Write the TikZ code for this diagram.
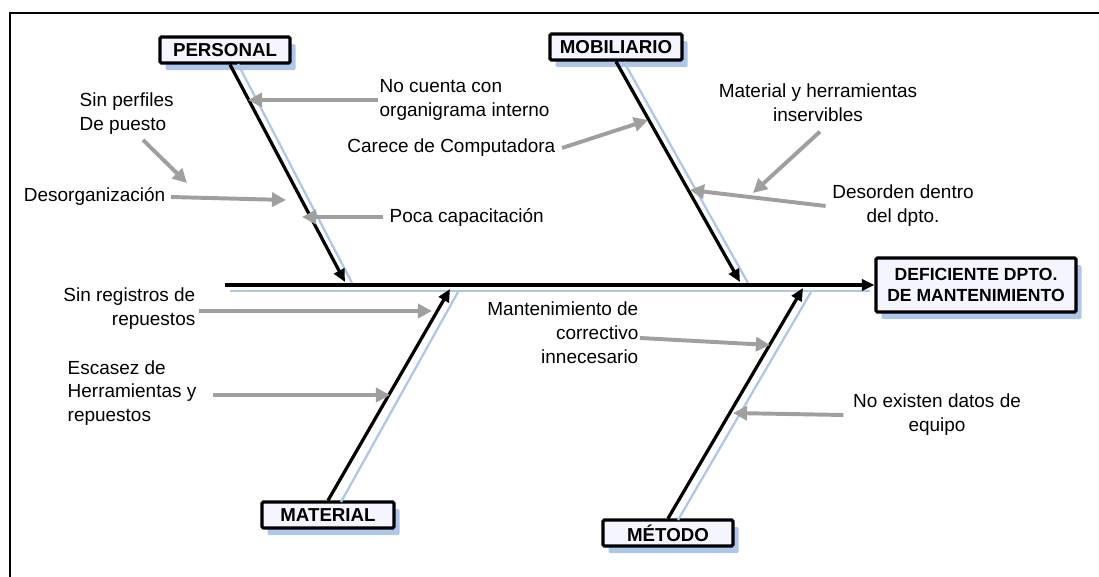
\documentclass[tikz,border=0pt]{standalone}
\usepackage{fontspec}
\setmainfont{Liberation Sans}
\usetikzlibrary{arrows.meta, shadows, positioning}
\definecolor{azulsombra}{RGB}{175,198,235}

\begin{document}
\begin{tikzpicture}[x=0.025cm, y=-0.025cm,
    causa/.style={draw, line width=2.2pt, rounded corners=1pt, fill=blue!4,
        font=\fontsize{13.3}{15}\selectfont\bfseries, inner sep=0pt,
        drop shadow={shadow xshift=4pt, shadow yshift=-5pt, fill=azulsombra, opacity=1}},
    efecto/.style={causa, align=center, font=\fontsize{12.5}{15}\selectfont\bfseries},
    hueso/.style={line width=2.3pt, -{Triangle[length=9pt, width=8pt]}},
    sombra/.style={line width=1.6pt, azulsombra},
    flecha/.style={line width=2.8pt, gray!75, -{Triangle[length=10pt, width=10pt]}},
    txt/.style={font=\fontsize{13.5}{17}\selectfont, inner sep=1pt}]
  \useasboundingbox (0,0) rectangle (1099,577);
  % marco
  \draw[line width=1.5pt] (10,577) -- (10,13) -- (1099,13);

  % cajas
  \node[causa, minimum width=3.25cm, minimum height=0.65cm] (personal) at (225,50) {PERSONAL};
  \node[causa, minimum width=3.3cm, minimum height=0.65cm] (mobiliario) at (616,47) {MOBILIARIO};
  \node[causa, minimum width=3.3cm, minimum height=0.65cm] (material) at (328,515) {MATERIAL};
  \node[causa, minimum width=3.25cm, minimum height=0.65cm] (metodo) at (668,533) {MÉTODO};
  \node[efecto, minimum width=5cm, minimum height=1.35cm] (efecto) at (976,285) {DEFICIENTE DPTO.\\DE MANTENIMIENTO};

  % espina y huesos
  \coordinate (inicio) at (225,285);
  \coordinate (p1) at (345,282);
  \coordinate (m1) at (740,282);
  \coordinate (a1) at (450,289);
  \coordinate (t1) at (803,288);
  \draw[sombra] (230,291) -- (870,291);
  \draw[sombra] (238,64) -- (352,283);
  \draw[sombra] (624,62) -- (748,283);
  \draw[sombra] (341,502) -- (458,292);
  \draw[sombra] (678,520) -- (811,292);
  \draw[hueso] (inicio) -- (efecto.west);
  \draw[hueso] (personal.south) ++(5,0) -- (p1);
  \draw[hueso] (mobiliario.south) -- (m1);
  \draw[hueso] (material.north) -- (a1);
  \draw[hueso] (metodo.north) -- (t1);

  % causas de personal
  \node[txt, anchor=west, align=left] (organig) at (378,100) {No cuenta con\\organigrama interno};
  \node[txt, anchor=west, align=left] (perfiles) at (78,114) {Sin perfiles\\De puesto};
  \node[txt, anchor=east] (desorg) at (167,196) {Desorganización};
  \node[txt, anchor=west] (capacit) at (388,217) {Poca capacitación};
  \coordinate (e1) at (248,100);
  \coordinate (e2) at (187,183);
  \coordinate (e3) at (286,200);
  \coordinate (e4) at (302,217);
  \draw[flecha] (organig.west) -- (e1);
  \draw[flecha] (143,140) -- (e2);
  \draw[flecha] (desorg.east) ++(4,1) -- (e3);
  \draw[flecha] (capacit.west) ++(-5,0) -- (e4);

  % causas de mobiliario
  \node[txt, anchor=east] (computadora) at (557,148) {Carece de Computadora};
  \node[txt, align=center] (inservibles) at (818,103) {Material y herramientas\\inservibles};
  \node[txt, align=center] (desorden) at (903,206) {Desorden dentro\\del dpto.};
  \coordinate (e5) at (648,120);
  \coordinate (e6) at (753,193);
  \coordinate (e7) at (690,190);
  \draw[flecha] (computadora.east) ++(5,0) -- (e5);
  \draw[flecha] (inservibles.south) ++(2,8) -- (e6);
  \draw[flecha] (desorden.west) ++(-5,0) -- (e7);

  % causas de material
  \node[txt, anchor=east, align=right] (registros) at (197,309) {Sin registros de\\repuestos};
  \node[txt, anchor=west, align=left] (escasez) at (66,393) {Escasez de\\Herramientas y\\repuestos};
  \coordinate (e8) at (432,311);
  \coordinate (e9) at (390,395);
  \draw[flecha] (registros.east) ++(2,2) -- (e8);
  \draw[flecha] (213,395) -- (e9);

  % causas de metodo
  \node[txt, anchor=east, align=right] (mantto) at (640,333) {Mantenimiento de\\correctivo\\innecesario};
  \node[txt, align=center] (datos) at (937,415) {No existen datos de\\equipo};
  \coordinate (e10) at (770,345);
  \coordinate (e11) at (733,413);
  \draw[flecha] (mantto.east) ++(0,5) -- (e10);
  \draw[flecha] (datos.west) ++(-8,0) -- (e11);
\end{tikzpicture}
\end{document}
